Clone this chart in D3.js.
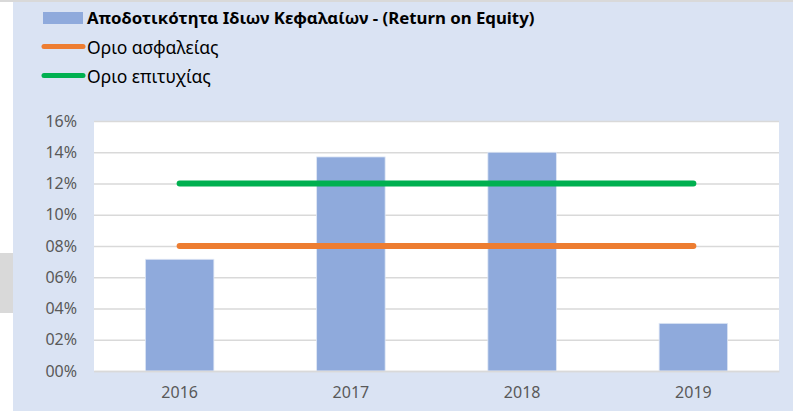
<!DOCTYPE html>
<html>
<head>
<meta charset="utf-8">
<script src="https://cdn.jsdelivr.net/npm/d3@7"></script>
<style>
  body { margin: 0; background: #ffffff; }
  svg text { font-family: "Noto Sans", "Open Sans", sans-serif; }
</style>
</head>
<body>
<svg id="chart" width="793" height="411"></svg>
<script>
// data
var years = ["2016", "2017", "2018", "2019"]
var roe = [0.0715, 0.137, 0.140, 0.0305]
var safetyLimit = [0.08, 0.08, 0.08, 0.08]
var successLimit = [0.12, 0.12, 0.12, 0.12]
var yTicks = [0, 0.02, 0.04, 0.06, 0.08, 0.10, 0.12, 0.14, 0.16]
var legendLabels = ["Αποδοτικότητα Ιδιων Κεφαλαίων - (Return on Equity)", "Οριο ασφαλείας", "Οριο επιτυχίας"]

var svg = d3.select("#chart"),
	margin = {top: 121, right: 14, bottom: 40, left: 94},
	width = 793 - margin.left - margin.right,
	height = 371 - margin.top;

// outer frame
svg.append("rect").attr("x", 0).attr("y", 0).attr("width", 793).attr("height", 2).attr("fill", "#d9d9d9")
svg.append("rect").attr("x", 0).attr("y", 253).attr("width", 13).attr("height", 60).attr("fill", "#d9d9d9")
svg.append("rect").attr("x", 13).attr("y", 2).attr("width", 780).attr("height", 409).attr("fill", "#dae3f3")

var g = svg.append("g").attr("transform", "translate(" + margin.left + "," + margin.top + ")");

g.append("rect").attr("width", width).attr("height", height).attr("fill", "#ffffff")

var xScale = d3.scaleBand()
	.domain(years)
	.range([0, width])
	.padding(0);

var yScale = d3.scaleLinear()
	.domain([0, 0.16])
	.range([height, 0]);

// gridlines + y labels
var yAxis = d3.axisLeft(yScale)
	.tickValues(yTicks)
	.tickSize(-width)
	.tickPadding(17)
	.tickFormat(function(d) { return d3.format("02d")(Math.round(d * 100)) + "%"; });

g.append("g")
	.attr("class", "axis y")
	.call(yAxis)
	.call(function(a) {
		a.select(".domain").remove();
		a.selectAll("line").attr("stroke", "#d9d9d9").attr("stroke-width", 1.3);
		a.selectAll("text").attr("fill", "#595959").attr("font-size", 16);
	});

// bars
var barW = xScale.bandwidth() * 0.4
g.selectAll(".bar")
	.data(roe)
	.enter().append("rect")
		.attr("class", "bar")
		.attr("x", function(d, i) { return xScale(years[i]) + (xScale.bandwidth() - barW) / 2; })
		.attr("y", function(d) { return yScale(d); })
		.attr("width", barW)
		.attr("height", function(d) { return height - yScale(d); })
		.attr("fill", "#8faadc")
		.attr("stroke", "#dfe7f5")
		.attr("stroke-width", 0.8);

// x labels
var xAxis = d3.axisBottom(xScale).tickSize(0).tickPadding(16);
g.append("g")
	.attr("class", "axis x")
	.attr("transform", "translate(0," + height + ")")
	.call(xAxis)
	.call(function(a) {
		a.select(".domain").attr("stroke", "#d9d9d9").attr("stroke-width", 1.3);
		a.selectAll("text").attr("fill", "#595959").attr("font-size", 16);
	});

// limit lines
var line = d3.line()
	.x(function(d, i) { return xScale(years[i]) + xScale.bandwidth() / 2; })
	.y(function(d) { return yScale(d); });

g.append("path").datum(safetyLimit)
	.attr("d", line).attr("fill", "none")
	.attr("stroke", "#ed7d31").attr("stroke-width", 6).attr("stroke-linecap", "round");

g.append("path").datum(successLimit)
	.attr("d", line).attr("fill", "none")
	.attr("stroke", "#00b050").attr("stroke-width", 6).attr("stroke-linecap", "round");

// legend
var legend = svg.append("g").attr("transform", "translate(43,0)")
legend.append("rect").attr("x", 0).attr("y", 12).attr("width", 40).attr("height", 12).attr("fill", "#8faadc")
legend.append("text").attr("x", 44).attr("y", 24).attr("font-size", 16.8).attr("font-weight", "bold")
	.attr("fill", "#000").text(legendLabels[0])

var legendColors = ["#ed7d31", "#00b050"]
legendColors.forEach(function(c, i) {
	var y = 46.5 + i * 29
	legend.append("line").attr("x1", 1).attr("x2", 40).attr("y1", y).attr("y2", y)
		.attr("stroke", c).attr("stroke-width", 5).attr("stroke-linecap", "round")
	legend.append("text").attr("x", 44).attr("y", y + 7.5).attr("font-size", 17.5)
		.attr("fill", "#000").text(legendLabels[i + 1])
})
</script>
</body>
</html>
